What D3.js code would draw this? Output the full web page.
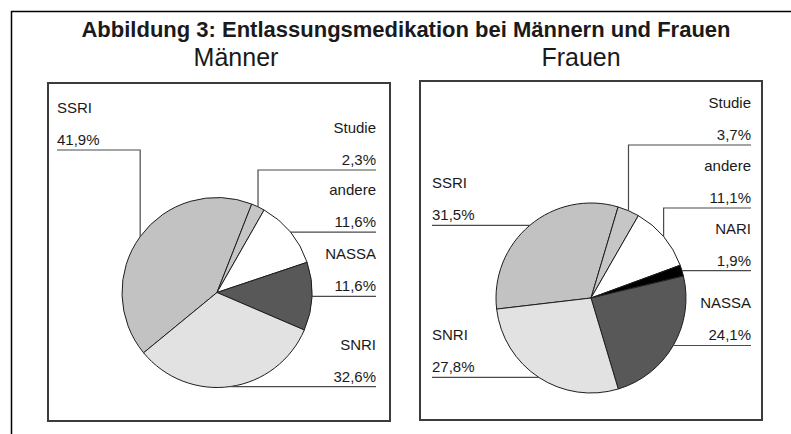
<!DOCTYPE html>
<meta charset="utf-8">
<script src="https://d3js.org/d3.v7.min.js"></script>
<style>
  body { margin: 0; background: #fff; }
  svg text { font-family: Arial, "Liberation Sans", sans-serif; fill: #1a1a1a; }
</style>
<body>
<div id="chart"></div>
<script>

// data
var menLabels = ["SSRI", "Studie", "andere", "NASSA", "SNRI"];
var menValues = [41.9, 2.3, 11.6, 11.6, 32.6];
var menText   = ["41,9%", "2,3%", "11,6%", "11,6%", "32,6%"];

var womenLabels = ["SSRI", "Studie", "andere", "NARI", "NASSA", "SNRI"];
var womenValues = [31.5, 3.7, 11.1, 1.9, 24.1, 27.8];
var womenText   = ["31,5%", "3,7%", "11,1%", "1,9%", "24,1%", "27,8%"];

var fills = {
  "SSRI": "#c2c2c2", "Studie": "#c6c6c6", "andere": "#ffffff",
  "NARI": "#000000", "NASSA": "#585858", "SNRI": "#e2e2e2"
};

var width = 791, height = 434;

var svg = d3.select("#chart")
  .append("svg")
    .attr("width", width)
    .attr("height", height);

// outer frame (only top and left visible)
svg.append("path")
  .attr("d", "M11.5," + height + "V11.5H" + width)
  .attr("fill", "none")
  .attr("stroke", "#000")
  .attr("stroke-width", 1.5);

svg.append("text")
  .attr("x", 406).attr("y", 37)
  .attr("text-anchor", "middle")
  .style("font-size", "22px")
  .style("font-weight", "bold")
  .text("Abbildung 3: Entlassungsmedikation bei Männern und Frauen");

// panels
var panels = [
  { title: "Männer", titleX: 236, labels: menLabels, values: menValues, text: menText,
    box: [48, 83, 342, 338], cx: 217, cy: 292.5, r: 95, start: 230.6,
    leftX: 57, rightX: 376,
    layout: { "SSRI": { side: "left", elbow: 150 }, "Studie": { side: "right", elbow: 170 },
              "andere": { side: "right" }, "NASSA": { side: "right" }, "SNRI": { side: "right" } } },
  { title: "Frauen", titleX: 581, labels: womenLabels, values: womenValues, text: womenText,
    box: [420, 81, 342, 339], cx: 591, cy: 298, r: 95, start: 263.3,
    leftX: 432, rightX: 751,
    layout: { "SSRI": { side: "left" }, "Studie": { side: "right", elbow: 145 },
              "andere": { side: "right", elbow: 208 }, "NARI": { side: "right" },
              "NASSA": { side: "right" }, "SNRI": { side: "left" } } }
];

panels.forEach(function(p) {
  var b = p.box;
  svg.append("rect")
    .attr("x", b[0]).attr("y", b[1])
    .attr("width", b[2]).attr("height", b[3])
    .attr("fill", "none")
    .attr("stroke", "#3c3c3c")
    .attr("stroke-width", 2);

  svg.append("text")
    .attr("x", p.titleX).attr("y", 66)
    .attr("text-anchor", "middle")
    .style("font-size", "25px")
    .text(p.title);

  var data = p.labels.map(function(l, i) { return { name: l, value: p.values[i], txt: p.text[i] }; });
  var a0 = p.start * Math.PI / 180;
  var pie = d3.pie().sort(null).value(function(d) { return d.value; })
    .startAngle(a0).endAngle(a0 + 2 * Math.PI);
  var arcs = pie(data);
  var arc = d3.arc().innerRadius(0).outerRadius(p.r);
  var edge = d3.arc().innerRadius(p.r).outerRadius(p.r);

  var g = svg.append("g").attr("transform", "translate(" + p.cx + "," + p.cy + ")");
  g.selectAll("path")
    .data(arcs)
    .enter()
    .append("path")
      .attr("d", arc)
      .attr("fill", function(d) { return fills[d.data.name]; })
      .attr("stroke", "#1e1e1e")
      .attr("stroke-width", 1);

  // leader lines and labels
  arcs.forEach(function(d) {
    var lay = p.layout[d.data.name];
    var c = edge.centroid(d);
    var ex = p.cx + c[0], ey = p.cy + c[1];
    var ly = lay.elbow !== undefined ? lay.elbow : ey;
    var tx = lay.side === "left" ? p.leftX : p.rightX;
    var anchor = lay.side === "left" ? "start" : "end";

    var path = "M" + tx + "," + ly + "H" + ex;
    if (lay.elbow !== undefined) path += "V" + ey;
    svg.append("path")
      .attr("d", path)
      .attr("fill", "none")
      .attr("stroke", "#4a4a4a")
      .attr("stroke-width", 1.2);

    svg.append("text")
      .attr("x", tx).attr("y", ly - 37)
      .attr("text-anchor", anchor)
      .style("font-size", "15px")
      .text(d.data.name);
    svg.append("text")
      .attr("x", tx).attr("y", ly - 5)
      .attr("text-anchor", anchor)
      .style("font-size", "15px")
      .text(d.data.txt);
  });
});

</script>
</body>
